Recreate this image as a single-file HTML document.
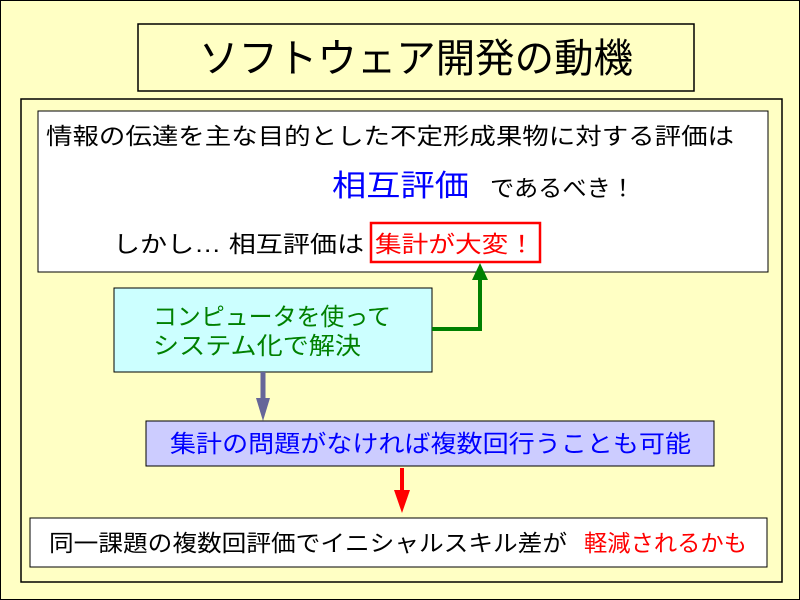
<!DOCTYPE html>
<html><head><meta charset="utf-8"><style>
html,body{margin:0;padding:0;background:#ffffc4;}
svg{display:block;}
text{font-family:"Liberation Sans","Noto Sans CJK JP",sans-serif;}
</style></head><body>
<svg width="800" height="600" viewBox="0 0 800 600" xmlns="http://www.w3.org/2000/svg">
<rect x="0.5" y="0.5" width="799" height="599" fill="#ffffc4" stroke="#000" stroke-width="1"/>
<rect x="138" y="24" width="556" height="67" fill="#ffffc4" stroke="#000" stroke-width="1.5"/>
<text x="199" y="72" font-size="40" textLength="434" lengthAdjust="spacingAndGlyphs" fill="#000">ソフトウェア開発の動機</text>
<rect x="21" y="99" width="761" height="483" fill="#ffffc4" stroke="#000" stroke-width="1.5"/>
<rect x="38" y="111" width="730" height="161" fill="#fff" stroke="#000" stroke-width="1"/>
<text x="46" y="144" font-size="23" textLength="688" lengthAdjust="spacingAndGlyphs">情報の伝達を主な目的とした不定形成果物に対する評価は</text>
<text x="332" y="196" font-size="30" textLength="137" lengthAdjust="spacingAndGlyphs" fill="#0000ff">相互評価</text>
<text x="490" y="196" font-size="23" textLength="145" lengthAdjust="spacingAndGlyphs">であるべき！</text>
<text x="113" y="252" font-size="23" textLength="251" lengthAdjust="spacingAndGlyphs">しかし…  相互評価は</text>
<rect x="371" y="223" width="169" height="39" fill="#fff" stroke="#ff0000" stroke-width="2.5"/>
<text x="375" y="252" font-size="23" textLength="160" lengthAdjust="spacingAndGlyphs" fill="#ff0000">集計が大変！</text>
<rect x="114" y="288" width="318" height="84" fill="#ccffff" stroke="#000" stroke-width="1"/>
<text x="153" y="325" font-size="24" textLength="238" lengthAdjust="spacingAndGlyphs" fill="#008000">コンピュータを使って</text>
<text x="153" y="354" font-size="24" textLength="208" lengthAdjust="spacingAndGlyphs" fill="#008000">システム化で解決</text>
<polyline points="432,329 480,329 480,278" fill="none" stroke="#008000" stroke-width="4"/>
<polygon points="472,280 488,280 480,263" fill="#008000"/>
<line x1="263" y1="372" x2="263" y2="400" stroke="#666699" stroke-width="5"/>
<polygon points="256,398 270,398 263,421" fill="#666699"/>
<rect x="146" y="421" width="568" height="45" fill="#ccccff" stroke="#000" stroke-width="1"/>
<text x="170" y="452" font-size="24" textLength="521" lengthAdjust="spacingAndGlyphs" fill="#0000ff">集計の問題がなければ複数回行うことも可能</text>
<line x1="402" y1="468" x2="402" y2="492" stroke="#ff0000" stroke-width="4"/>
<polygon points="394,490 410,490 402,513" fill="#ff0000"/>
<rect x="30" y="518" width="737" height="49" fill="#fff" stroke="#000" stroke-width="1"/>
<text x="49" y="551" font-size="23" textLength="518" lengthAdjust="spacingAndGlyphs">同一課題の複数回評価でイニシャルスキル差が</text>
<text x="584" y="551" font-size="23" textLength="163" lengthAdjust="spacingAndGlyphs" fill="#ff0000">軽減されるかも</text>
</svg>
</body></html>
